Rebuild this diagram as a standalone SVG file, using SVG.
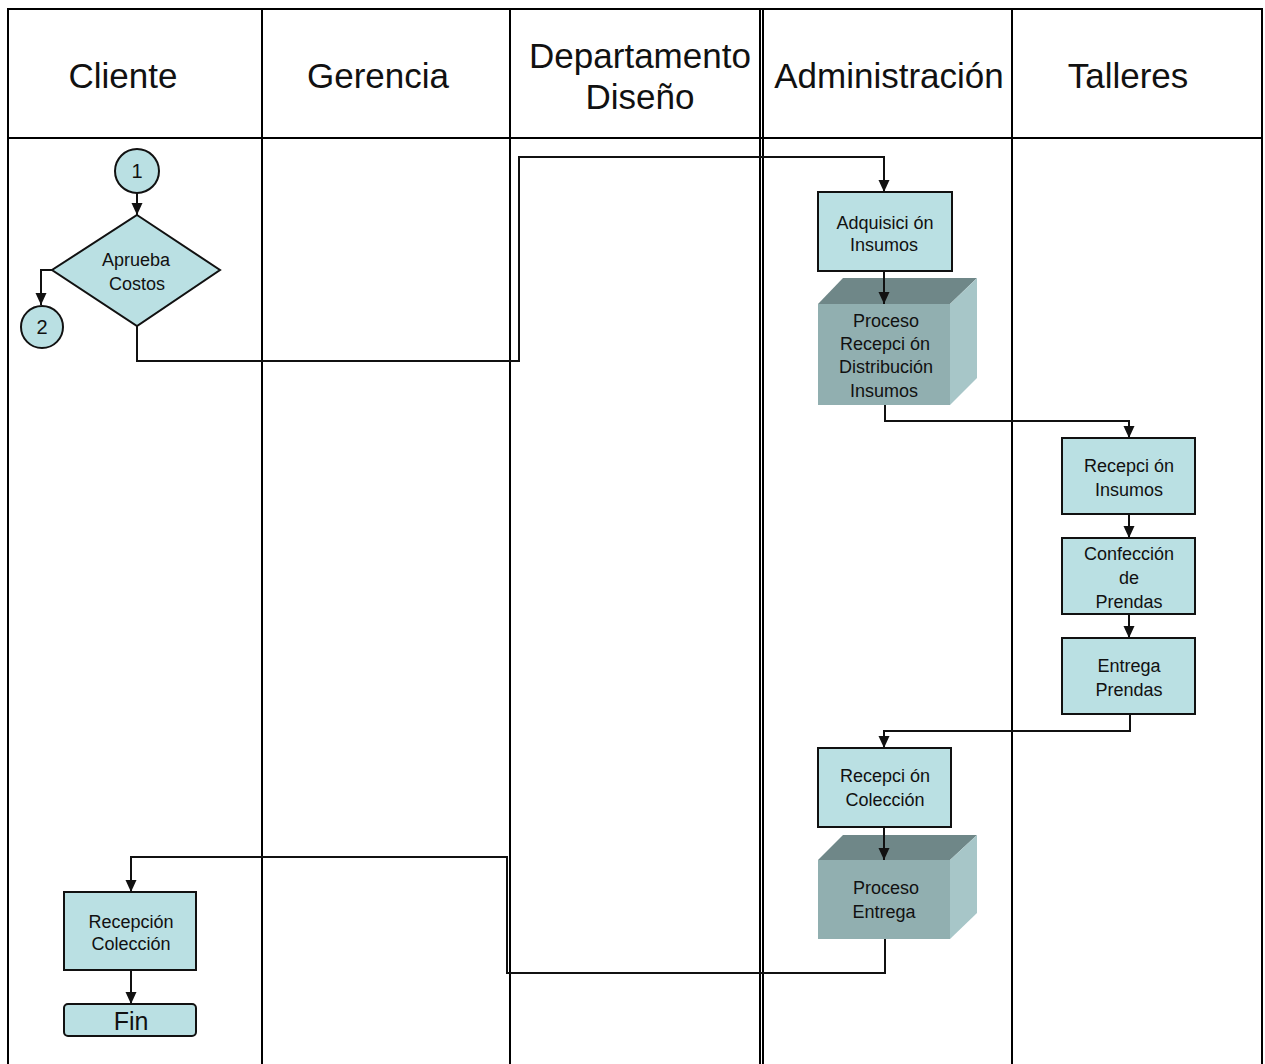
<svg xmlns="http://www.w3.org/2000/svg" width="1265" height="1064" viewBox="0 0 1265 1064">
  <style>
    .grid { stroke: #000; stroke-width: 2; fill: none; }
    .lane { font-family: "Liberation Sans", Arial, sans-serif; font-size: 35px; fill: #111; text-anchor: middle; }
    .lbl { font-family: "Liberation Sans", Arial, sans-serif; font-size: 18px; fill: #111; text-anchor: middle; }
    .num { font-size: 20px; }
    .big { font-size: 25px; }
    .box { fill: #BAE0E3; stroke: #111; stroke-width: 2; }
    .front { fill: #91AFB0; }
    .top { fill: #6F8788; }
    .side { fill: #A7C6C8; }
    .wire { fill: none; stroke: #111; stroke-width: 2; }
  </style>
  <defs>
    <marker id="arrow" viewBox="0 0 12 12" refX="12" refY="6" markerWidth="12" markerHeight="12" markerUnits="userSpaceOnUse" orient="auto">
      <path d="M0,0.5 L12,6 L0,11.5 Z" fill="#111"/>
    </marker>
  </defs>
  <rect width="1265" height="1064" fill="#fff"/>

  <!-- swimlane table -->
  <g id="lanes">
    <path class="grid" d="M8,1064 V9 H1262 V1064"/>
    <path class="grid" d="M8,138 H1262"/>
    <path class="grid" d="M262,9 V1064 M510,9 V1064 M760,9 V1064 M763,9 V1064 M1012,9 V1064"/>
    <text class="lane" x="123" y="88">Cliente</text>
    <text class="lane" x="378" y="88">Gerencia</text>
    <text class="lane" x="640" y="68">Departamento</text>
    <text class="lane" x="640" y="109">Diseño</text>
    <text class="lane" x="889" y="88">Administración</text>
    <text class="lane" x="1128" y="88">Talleres</text>
  </g>

  <!-- Cliente -->
  <g id="start-1">
    <circle class="box" cx="137" cy="171" r="22"/>
    <text class="lbl num" x="137" y="178">1</text>
  </g>
  <g id="aprueba-costos">
    <path class="box" d="M137,215 L220,270 L137,326 L52,270 Z"/>
    <text class="lbl" x="136" y="266">Aprueba</text>
    <text class="lbl" x="137" y="290">Costos</text>
  </g>
  <g id="connector-2">
    <circle class="box" cx="42" cy="327" r="21"/>
    <text class="lbl num" x="42" y="334">2</text>
  </g>
  <g id="recepcion-coleccion-cliente">
    <rect class="box" x="64" y="892" width="132" height="78"/>
    <text class="lbl" x="131" y="928">Recepción</text>
    <text class="lbl" x="131" y="950">Colección</text>
  </g>
  <g id="fin">
    <rect class="box" x="64" y="1004" width="132" height="32" rx="4"/>
    <text class="lbl big" x="131" y="1030">Fin</text>
  </g>

  <!-- Administración -->
  <g id="adquisicion-insumos">
    <rect class="box" x="818" y="192" width="134" height="79"/>
    <text class="lbl" x="885" y="229">Adquisici ón</text>
    <text class="lbl" x="884" y="251">Insumos</text>
  </g>
  <g id="proceso-recepcion">
    <path class="top" d="M818,304 L843,278 L977,278 L950,304 Z"/>
    <path class="side" d="M950,304 L977,278 L977,378 L950,405 Z"/>
    <rect class="front" x="818" y="304" width="132" height="101"/>
    <text class="lbl" x="886" y="327">Proceso</text>
    <text class="lbl" x="885" y="350">Recepci ón</text>
    <text class="lbl" x="886" y="373">Distribución</text>
    <text class="lbl" x="884" y="397">Insumos</text>
  </g>
  <g id="recepcion-coleccion-admin">
    <rect class="box" x="818" y="748" width="133" height="79"/>
    <text class="lbl" x="885" y="782">Recepci ón</text>
    <text class="lbl" x="885" y="806">Colección</text>
  </g>
  <g id="proceso-entrega">
    <path class="top" d="M818,860 L843,835 L977,835 L950,860 Z"/>
    <path class="side" d="M950,860 L977,835 L977,913 L950,939 Z"/>
    <rect class="front" x="818" y="860" width="132" height="79"/>
    <text class="lbl" x="886" y="894">Proceso</text>
    <text class="lbl" x="884" y="918">Entrega</text>
  </g>

  <!-- Talleres -->
  <g id="recepcion-insumos">
    <rect class="box" x="1062" y="438" width="133" height="76"/>
    <text class="lbl" x="1129" y="472">Recepci ón</text>
    <text class="lbl" x="1129" y="496">Insumos</text>
  </g>
  <g id="confeccion-prendas">
    <rect class="box" x="1062" y="538" width="133" height="76"/>
    <text class="lbl" x="1129" y="560">Confección</text>
    <text class="lbl" x="1129" y="584">de</text>
    <text class="lbl" x="1129" y="608">Prendas</text>
  </g>
  <g id="entrega-prendas">
    <rect class="box" x="1062" y="638" width="133" height="76"/>
    <text class="lbl" x="1129" y="672">Entrega</text>
    <text class="lbl" x="1129" y="696">Prendas</text>
  </g>

  <!-- connectors, drawn last so the arrows into the 3D blocks stay on top -->
  <g id="connectors">
    <path class="wire" d="M137,193 V215" marker-end="url(#arrow)"/>
    <path class="wire" d="M52,270 H41 V305" marker-end="url(#arrow)"/>
    <path class="wire" d="M137,326 V361 H519 V157 H884 V192" marker-end="url(#arrow)"/>
    <path class="wire" d="M884,271 V304" marker-end="url(#arrow)"/>
    <path class="wire" d="M885,405 V421 H1129 V438" marker-end="url(#arrow)"/>
    <path class="wire" d="M1129,514 V538" marker-end="url(#arrow)"/>
    <path class="wire" d="M1129,614 V638" marker-end="url(#arrow)"/>
    <path class="wire" d="M1130,714 V731 H884 V748" marker-end="url(#arrow)"/>
    <path class="wire" d="M884,827 V860" marker-end="url(#arrow)"/>
    <path class="wire" d="M885,939 V973 H507 V857 H131 V892" marker-end="url(#arrow)"/>
    <path class="wire" d="M131,970 V1004" marker-end="url(#arrow)"/>
  </g>
</svg>
